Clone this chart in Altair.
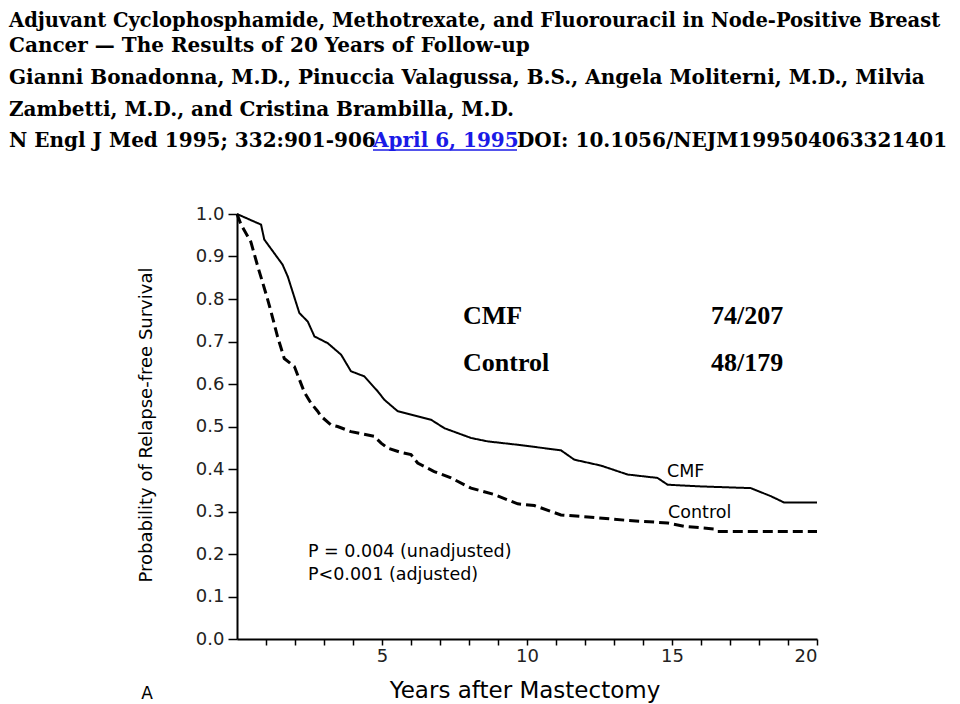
import altair as alt
import pandas as pd

# ---- data (years, relapse-free survival) ----
cmf_years = [0, 0.83, 0.94, 1.57, 1.75, 2.15, 2.44, 2.67, 3.13, 3.59, 3.93, 4.39, 4.85,
             5.08, 5.54, 6.69, 7.15, 8.07, 8.64, 9.68, 11.17, 11.63, 12.55, 13.47, 14.5,
             14.85, 16.0, 17.72, 18.41, 18.87, 20]
cmf_surv = [1.0, 0.975, 0.940, 0.881, 0.853, 0.767, 0.747, 0.712, 0.696, 0.669, 0.630, 0.618,
            0.583, 0.563, 0.536, 0.516, 0.496, 0.473, 0.465, 0.457, 0.444, 0.422, 0.408, 0.387,
            0.379, 0.363, 0.359, 0.355, 0.336, 0.321, 0.321]

ctl_years = [0, 0.14, 0.48, 0.71, 0.94, 1.06, 1.17, 1.4, 1.63, 1.98, 2.32, 2.55, 2.78, 2.9,
             3.24, 3.47, 3.93, 4.73, 4.97, 5.2, 5.66, 6.0, 6.23, 6.8, 7.38, 8.07, 8.87, 9.68,
             10.25, 11.17, 12.1, 13.47, 14.85, 15.42, 16.45, 16.57, 20]
ctl_surv = [1.0, 0.975, 0.934, 0.878, 0.826, 0.798, 0.771, 0.711, 0.660, 0.641, 0.581, 0.555,
            0.536, 0.524, 0.504, 0.500, 0.488, 0.477, 0.461, 0.449, 0.439, 0.434, 0.414, 0.394,
            0.379, 0.355, 0.340, 0.318, 0.314, 0.292, 0.287, 0.279, 0.273, 0.265, 0.259, 0.253,
            0.253]

groups = ["CMF", "Control"]
x_ticks = list(range(1, 21))
y_ticks = [round(i / 10, 1) for i in range(0, 11)]

header_lines = [
    "Adjuvant Cyclophosphamide, Methotrexate, and Fluorouracil in Node-Positive Breast",
    "Cancer \u2014 The Results of 20 Years of Follow-up",
    "Gianni Bonadonna, M.D., Pinuccia Valagussa, B.S., Angela Moliterni, M.D., Milvia",
    "Zambetti, M.D., and Cristina Brambilla, M.D.",
]
citation = ["N Engl J Med 1995; 332:901-906", "April 6, 1995", "DOI: 10.1056/NEJM199504063321401"]
legend_rows = [("CMF", "74/207"), ("Control", "48/179")]
p_lines = ["P = 0.004 (unadjusted)", "P<0.001 (adjusted)"]

df = pd.concat([
    pd.DataFrame({"years": cmf_years, "surv": cmf_surv, "group": groups[0], "order": range(len(cmf_years))}),
    pd.DataFrame({"years": ctl_years, "surv": ctl_surv, "group": groups[1], "order": range(len(ctl_years))}),
])

SERIF = "Liberation Serif, Times New Roman, serif"
HSERIF = "DejaVu Serif, serif"
SANS = "DejaVu Sans, sans-serif"

x_enc = alt.X("years:Q", scale=alt.Scale(domain=[0, 20], nice=False, zero=True),
              axis=alt.Axis(values=x_ticks, labelExpr="datum.value % 5 == 0 ? datum.label : ''",
                            title=None, grid=False, tickSize=6, labelPadding=2,
                            labelFont=SANS, labelFontSize=18, labelColor="#222",
                            domainColor="black", domainWidth=2, tickColor="black", tickWidth=1.5))
y_enc = alt.Y("surv:Q", scale=alt.Scale(domain=[0, 1], nice=False),
              axis=alt.Axis(values=y_ticks, format=".1f", title=None, grid=False, tickSize=9,
                            labelPadding=4, labelFont=SANS, labelFontSize=18, labelColor="#222",
                            domainColor="black", domainWidth=2, tickColor="black", tickWidth=1.5))

curves = alt.Chart(df).mark_line(color="black", interpolate="linear").encode(
    x=x_enc, y=y_enc,
    detail="group:N",
    order="order:Q",
    strokeDash=alt.StrokeDash("group:N", scale=alt.Scale(domain=groups, range=[[1, 0], [10, 5]]), legend=None),
    strokeWidth=alt.StrokeWidth("group:N", scale=alt.Scale(domain=groups, range=[2, 3]), legend=None),
)

one = alt.Data(values=[{}])


def txt(s, x, y, size, font, weight="normal", color="black", align="left", angle=0, baseline="alphabetic"):
    return alt.Chart(one).mark_text(text=s, fontSize=size, font=font, fontWeight=weight, color=color,
                                    align=align, baseline=baseline, angle=angle).encode(
        x=alt.value(x), y=alt.value(y))


HX = -228
HS = 20
layers = [curves]
# header (positions relative to plot origin)
header_y = [-187, -162, -130, -98]
header_sizes = [19.5, HS, HS, HS]
for line, yy, sz in zip(header_lines, header_y, header_sizes):
    layers.append(txt(line, HX, yy, sz, HSERIF, weight="bold"))
layers.append(txt(citation[0], HX, -67, HS, HSERIF, weight="bold"))
layers.append(txt(citation[1], 136, -67, HS, HSERIF, weight="bold", color="#1a1ae6"))
layers.append(txt(citation[2], 280, -67, HS, HSERIF, weight="bold"))
layers.append(alt.Chart(one).mark_rule(color="#1a1ae6", strokeWidth=1.5).encode(
    x=alt.value(136), x2=alt.value(280), y=alt.value(-64)))

# legend block (bold serif)
for i, (name, count) in enumerate(legend_rows):
    layers.append(txt(name, 226, 110 + i * 47, 26, SERIF, weight="bold"))
    layers.append(txt(count, 474, 110 + i * 47, 26, SERIF, weight="bold"))

# curve labels and p-values
layers.append(txt("CMF", 430, 263, 17.5, SANS))
layers.append(txt("Control", 431, 304, 17.5, SANS))
for i, p in enumerate(p_lines):
    layers.append(txt(p, 71, 343 + i * 23, 17.5, SANS))

# axis titles and panel letter
layers.append(txt("Probability of Relapse-free Survival", -90, 211, 18, SANS, align="center",
                  angle=270, baseline="middle"))
layers.append(txt("Years after Mastectomy", 288, 484, 23, SANS, align="center"))
layers.append(txt("A", -90, 485, 17, SANS, align="center"))

chart = alt.layer(*layers).properties(
    width=580, height=425,
    padding={"left": 229, "top": 206, "right": 135, "bottom": 65},
    autosize=alt.AutoSizeParams(type="none"),
    background="white",
).configure_view(stroke=None)

chart.save("out.html", embed_options={"renderer": "svg", "actions": False})
